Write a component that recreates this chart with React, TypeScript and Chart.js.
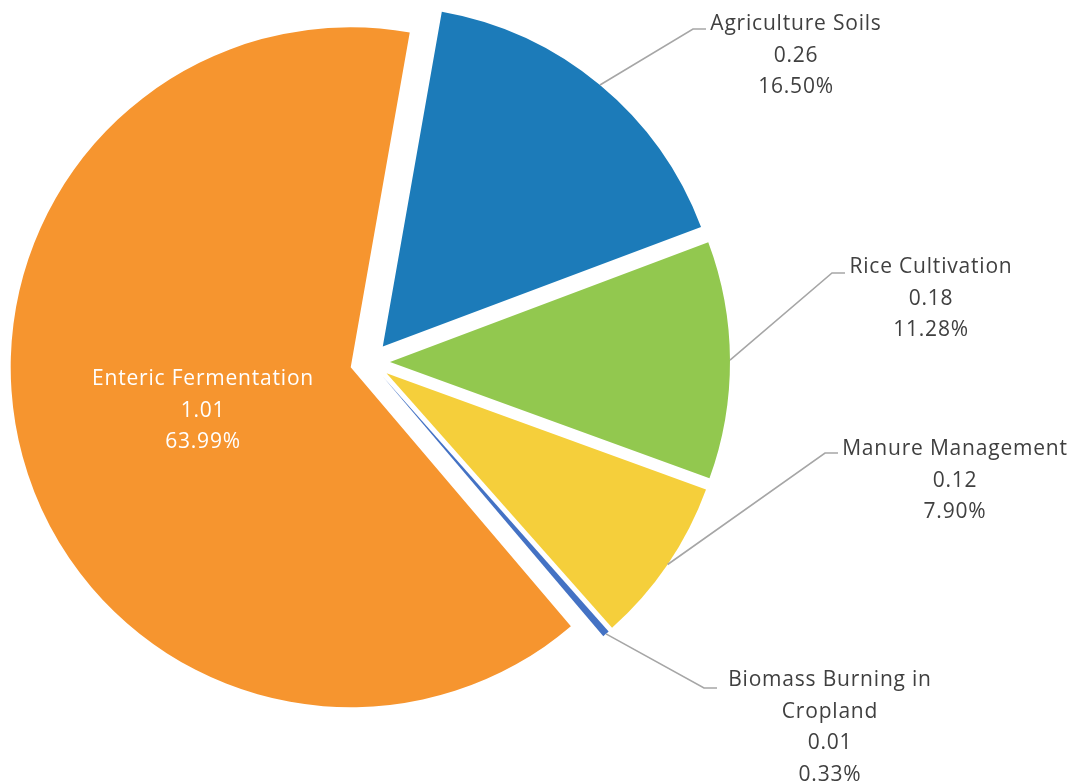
import React, { useEffect, useRef } from "react";
import { Chart, registerables } from "chart.js";

Chart.register(...registerables);

// ---- data ----
const categories = [
  "Agriculture Soils",
  "Rice Cultivation",
  "Manure Management",
  "Biomass Burning in Cropland",
  "Enteric Fermentation",
];
const labelLines = [
  ["Agriculture Soils"],
  ["Rice Cultivation"],
  ["Manure Management"],
  ["Biomass Burning in", "Cropland"],
  ["Enteric Fermentation"],
];
const values = [0.26, 0.18, 0.12, 0.01, 1.01];
const shares = [16.5, 11.28, 7.9, 0.33, 63.99];
const colors = ["#1C7BB9", "#92C84F", "#F5CF3B", "#4472C4", "#F6952F"];

// ---- layout ----
const W = 1077;
const H = 784;
const RADIUS = 340;
const EXPLODE = 20;
const START_ANGLE = 10;
const FONT = '"Open Sans", sans-serif';
const FONT_SIZE = 21;
const LETTER_SPACING = "0.8px";
const LINE_H = 31.5;
const TEXT_SHIFT = 2.5;
const TEXT_DARK = "#404040";
const LEADER = "#A6A6A6";

// outside labels: text centre x, first line centre y, leader end point
const labelLayout: ({ cx: number; y: number; ex: number; ey: number } | null)[] = [
  { cx: 796, y: 22, ex: 706, ey: 29 },
  { cx: 931, y: 265, ex: 845, ey: 273 },
  { cx: 955, y: 447, ex: 838, ey: 453 },
  { cx: 830, y: 678, ex: 717, ey: 688 },
  null,
];

// explode every slice outward along its mid-angle (Excel-style pie explosion)
const explode = {
  id: "explode",
  afterDatasetUpdate(chart: any, args: any) {
    const meta = chart.getDatasetMeta(args.index);
    meta.data.forEach((arc: any) => {
      const mid = (arc.startAngle + arc.endAngle) / 2;
      arc.x = arc.x + Math.cos(mid) * EXPLODE;
      arc.y = arc.y + Math.sin(mid) * EXPLODE;
    });
  },
};

const sliceLabels = {
  id: "sliceLabels",
  afterDatasetsDraw(chart: any) {
    const ctx = chart.ctx;
    const meta = chart.getDatasetMeta(0);
    meta.data.forEach((arc: any, i: number) => {
      const mid = (arc.startAngle + arc.endAngle) / 2;
      const cx = arc.x;
      const cy = arc.y;
      const r = arc.outerRadius;
      const lines = [...labelLines[i], values[i].toFixed(2), shares[i].toFixed(2) + "%"];
      ctx.save();
      ctx.font = `${FONT_SIZE}px ${FONT}`;
      try {
        (ctx as any).letterSpacing = LETTER_SPACING;
      } catch (e) {}
      ctx.textAlign = "center";
      ctx.textBaseline = "middle";
      const lay = labelLayout[i];
      if (!lay) {
        const px = cx + Math.cos(mid) * r * 0.45;
        const py = cy + Math.sin(mid) * r * 0.45;
        ctx.fillStyle = "#FFFFFF";
        const y0 = py - ((lines.length - 1) / 2) * LINE_H + TEXT_SHIFT + 1;
        lines.forEach((t, k) => ctx.fillText(t, px, y0 + k * LINE_H));
      } else {
        const sx = cx + Math.cos(mid) * r;
        const sy = cy + Math.sin(mid) * r;
        ctx.strokeStyle = LEADER;
        ctx.lineWidth = 1.6;
        ctx.beginPath();
        ctx.moveTo(sx, sy);
        ctx.lineTo(lay.ex - 13, lay.ey);
        ctx.lineTo(lay.ex, lay.ey);
        ctx.stroke();
        ctx.fillStyle = TEXT_DARK;
        lines.forEach((t, k) => ctx.fillText(t, lay.cx, lay.y + TEXT_SHIFT + k * LINE_H));
      }
      ctx.restore();
    });
  },
};

export default function App() {
  const ref = useRef<HTMLCanvasElement | null>(null);
  useEffect(() => {
    if (!ref.current) return;
    const chart = new Chart(ref.current, {
      type: "pie",
      data: {
        labels: categories,
        datasets: [
          {
            data: shares,
            backgroundColor: colors,
            borderWidth: 0,
          },
        ],
      },
      options: {
        responsive: false,
        animation: false,
        events: [],
        rotation: START_ANGLE,
        radius: RADIUS,
        layout: { padding: { left: 0, right: 337, top: 0, bottom: 60 } },
        plugins: { legend: { display: false }, tooltip: { enabled: false } },
      },
      plugins: [explode, sliceLabels],
    } as any);
    return () => chart.destroy();
  }, []);
  return (
    <div style={{ position: "absolute", left: 0, top: 0, width: W, height: H, background: "#fff" }}>
      <canvas ref={ref} width={W} height={H} style={{ width: W, height: H, display: "block" }} />
    </div>
  );
}
